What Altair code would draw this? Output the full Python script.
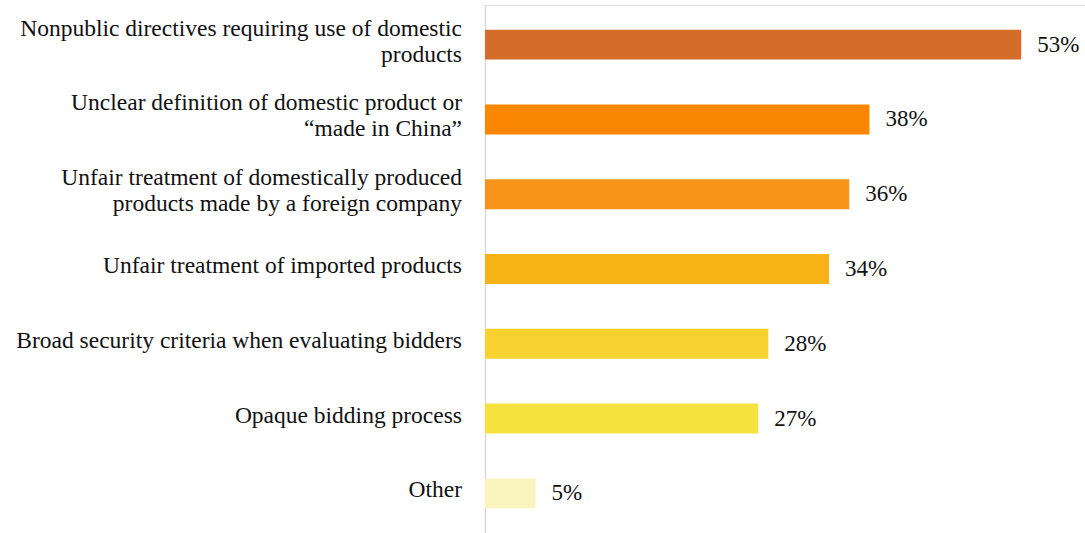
import altair as alt
import pandas as pd

categories = [
    "Nonpublic directives requiring use of domestic\nproducts",
    "Unclear definition of domestic product or\n\u201cmade in China\u201d",
    "Unfair treatment of domestically produced\nproducts made by a foreign company",
    "Unfair treatment of imported products",
    "Broad security criteria when evaluating bidders",
    "Opaque bidding process",
    "Other",
]
values = [53, 38, 36, 34, 28, 27, 5]
colors = ["#D46D29", "#FA8602", "#F7951A", "#F7B216", "#F7D12D", "#F5E23E", "#FAF4BE"]

df = pd.DataFrame({"cat": categories, "val": values, "color": colors})
df["label"] = df["val"].astype(str) + "%"
df["multi"] = df["cat"].str.contains("\n")

y = alt.Y("cat:N", sort=categories,
          scale=alt.Scale(paddingInner=0.6, paddingOuter=0.33),
          axis=alt.Axis(labels=False, ticks=False, title=None, domainColor="#d9d9d9", domainWidth=1.5))
x = alt.X("val:Q", scale=alt.Scale(domain=[0, 59.3], nice=False), axis=None)

base = alt.Chart(df)
bars = base.mark_bar().encode(
    x=x, y=y, color=alt.Color("color:N", scale=None)
)
vals = base.mark_text(align="left", baseline="middle", dx=16, font="Liberation Serif",
                      fontSize=23, color="#111111").encode(
    x=x, y=y, text="label:N"
)
cat_style = dict(align="right", baseline="middle", lineBreak="\n", font="Liberation Serif",
                 fontSize=23.5, lineHeight=26, color="#111111")
cats1 = base.transform_filter("!datum.multi").mark_text(dy=-3, **cat_style).encode(
    x=alt.value(-23), y=y, text="cat:N"
)
cats2 = base.transform_filter("datum.multi").mark_text(dy=-16, **cat_style).encode(
    x=alt.value(-23), y=y, text="cat:N"
)

chart = alt.layer(bars, vals, cats1, cats2).properties(
    width=600, height=528,
    autosize=alt.AutoSizeParams(type="none"),
    padding={"left": 485, "top": 5, "right": 0, "bottom": 0},
).configure_view(stroke=None).configure(background="white")

chart.save("out.html", embed_options={"renderer": "svg", "actions": False})
